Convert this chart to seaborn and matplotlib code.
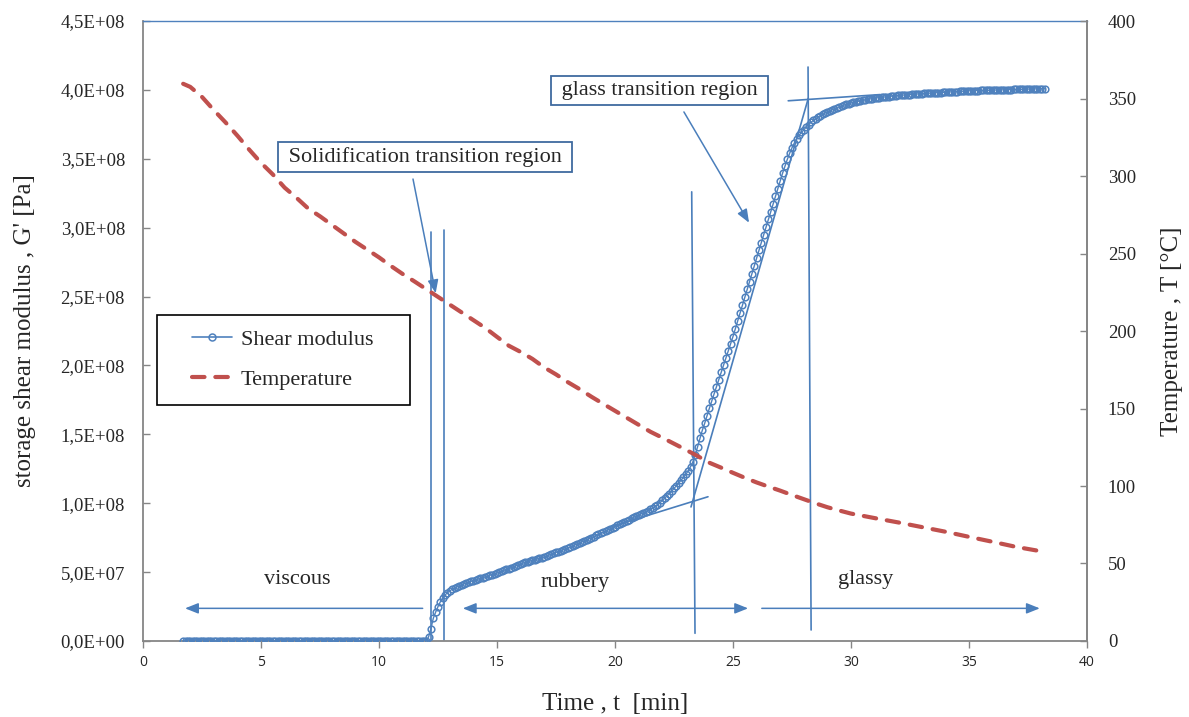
import numpy as np
import matplotlib
matplotlib.use("Agg")
import matplotlib.pyplot as plt
import seaborn as sns
from matplotlib.ticker import FuncFormatter, MultipleLocator
from matplotlib.lines import Line2D
from matplotlib.patches import Rectangle

# ---- measured data -------------------------------------------------------
# storage shear modulus, sampled every 0.1 min starting at 1.7 min (units of 1e7 Pa)
t_start = 1.7
t_step = 0.1
modulus_1e7 = [
    0.0, 0.0, 0.0, 0.0, 0.0, 0.0, 0.0, 0.0, 0.0, 0.0,
    0.0, 0.0, 0.0, 0.0, 0.0, 0.0, 0.0, 0.0, 0.0, 0.0,
    0.0, 0.0, 0.0, 0.0, 0.0, 0.0, 0.0, 0.0, 0.0, 0.0,
    0.0, 0.0, 0.0, 0.0, 0.0, 0.0, 0.0, 0.0, 0.0, 0.0,
    0.0, 0.0, 0.0, 0.0, 0.0, 0.0, 0.0, 0.0, 0.0, 0.0,
    0.0, 0.0, 0.0, 0.0, 0.0, 0.0, 0.0, 0.0, 0.0, 0.0,
    0.0, 0.0, 0.0, 0.0, 0.0, 0.0, 0.0, 0.0, 0.0, 0.0,
    0.0, 0.0, 0.0, 0.0, 0.0, 0.0, 0.0, 0.0, 0.0, 0.0,
    0.0, 0.0, 0.0, 0.0, 0.0, 0.0, 0.0, 0.0, 0.0, 0.0,
    0.0, 0.0, 0.0, 0.0, 0.0, 0.0, 0.0, 0.0, 0.0, 0.0,
    0.0, 0.0, 0.0, 0.0,
    0.3, 0.9, 1.65, 2.1, 2.5, 2.85, 3.1, 3.35, 3.5, 3.65,
    3.75, 3.85, 3.93, 4.0, 4.08, 4.15, 4.21, 4.27, 4.33, 4.38,
    4.44, 4.49, 4.55, 4.60, 4.66, 4.71, 4.77, 4.82, 4.88, 4.93,
    5.00, 5.06, 5.13, 5.20, 5.26, 5.33, 5.40, 5.46, 5.53, 5.60,
    5.65, 5.70, 5.75, 5.80, 5.85, 5.90, 5.95, 6.00, 6.05, 6.10,
    6.17, 6.23, 6.30, 6.36, 6.43, 6.49, 6.56, 6.62, 6.69, 6.75,
    6.83, 6.90, 6.98, 7.05, 7.13, 7.20, 7.28, 7.35, 7.43, 7.50,
    7.58, 7.66, 7.74, 7.82, 7.90, 7.98, 8.06, 8.14, 8.22, 8.30,
    8.39, 8.47, 8.56, 8.64, 8.73, 8.81, 8.90, 8.98, 9.07, 9.15,
    9.23, 9.31, 9.39, 9.47, 9.56, 9.66, 9.77, 9.89, 10.03, 10.20,
    10.36, 10.53, 10.70, 10.88, 11.07, 11.27, 11.47, 11.67, 11.88, 12.10,
    12.35, 12.65, 13.00, 13.50, 14.10, 14.70, 15.30, 15.80, 16.35, 16.90,
    17.42, 17.94, 18.46, 18.98, 19.50, 20.02, 20.54, 21.06, 21.58, 22.10,
    22.67, 23.24, 23.81, 24.38, 24.95, 25.52, 26.09, 26.66, 27.23, 27.80,
    28.36, 28.92, 29.48, 30.04, 30.60, 31.16, 31.72, 32.28, 32.84, 33.40,
    33.95, 34.45, 34.95, 35.40, 35.80, 36.15, 36.45, 36.70, 36.92, 37.10,
    37.30, 37.48, 37.64, 37.78, 37.90, 38.02, 38.13, 38.23, 38.32, 38.40,
    38.48, 38.56, 38.63, 38.70, 38.77, 38.83, 38.89, 38.95, 39.00, 39.05,
    39.09, 39.13, 39.17, 39.21, 39.25, 39.28, 39.31, 39.34, 39.37, 39.40,
    39.42, 39.44, 39.46, 39.48, 39.50, 39.52, 39.54, 39.56, 39.58, 39.60,
    39.61, 39.62, 39.64, 39.65, 39.66, 39.68, 39.69, 39.70, 39.72, 39.73,
    39.74, 39.75, 39.76, 39.77, 39.78, 39.79, 39.80, 39.81, 39.82, 39.83,
    39.84, 39.85, 39.86, 39.87, 39.88, 39.89, 39.90, 39.91, 39.92, 39.93,
    39.94, 39.94, 39.95, 39.95, 39.96, 39.96, 39.97, 39.97, 39.98, 39.98,
    39.99, 39.99, 40.00, 40.00, 40.01, 40.01, 40.02, 40.02, 40.03, 40.03,
    40.04, 40.04, 40.05, 40.05, 40.06, 40.06, 40.07, 40.07, 40.08, 40.08,
    40.09, 40.09,
]

# sample temperature during cooling
temp_time = [1.7, 2.0, 2.5, 3.0, 3.5, 4.0, 4.5, 5.0, 5.5, 6.0, 6.5, 7.0, 7.5,
             8.0, 8.5, 9.0, 9.5, 10.0, 10.5, 11.0, 11.5, 12.0, 12.5, 13.0,
             13.5, 14.0, 14.5, 15.0, 15.5, 16.0, 16.5, 17.0, 17.5, 18.0, 18.5,
             19.0, 19.5, 20.0, 20.5, 21.0, 21.5, 22.0, 22.5, 23.0, 23.5, 24.0,
             24.5, 25.0, 25.5, 26.0, 26.5, 27.0, 27.5, 28.0, 28.5, 29.0, 29.5,
             30.0, 31.0, 32.0, 33.0, 34.0, 35.0, 36.0, 37.0, 38.2]
temp_c = [359.5, 357.5, 351.0, 342.5, 334.5, 326.0, 317.0, 308.5, 301.0, 292.5,
          286.0, 279.0, 274.0, 268.5, 263.0, 257.5, 252.5, 247.5, 242.0, 236.8,
          232.0, 227.0, 222.0, 217.0, 212.0, 207.0, 202.0, 196.2, 190.5, 186.5,
          182.0, 176.5, 172.0, 167.0, 162.5, 157.6, 153.0, 148.5, 144.0, 139.5,
          135.0, 131.2, 127.3, 123.4, 119.3, 115.0, 111.8, 108.5, 105.3, 102.3,
          99.6, 97.0, 94.2, 91.5, 88.8, 86.3, 84.2, 82.2, 79.3, 76.5, 73.5,
          70.5, 67.2, 64.0, 60.7, 57.5]

series_labels = ["Shear modulus", "Temperature"]
x_ticks = [0, 5, 10, 15, 20, 25, 30, 35, 40]

time_min = np.round(t_start + t_step * np.arange(len(modulus_1e7)), 2)
modulus_pa = np.array(modulus_1e7) * 1e7

# ---- styling --------------------------------------------------------------
sns.set_theme(style="white")
plt.rcParams["font.family"] = ["Liberation Serif", "DejaVu Serif"]

BLUE = "#4F81BD"
LINEBLUE = "#4A7EBB"
BOXBLUE = "#3F6A9F"
RED = "#C0504D"
GRAY = "#868686"
DASH = (0, (3.0, 2.6))

fig = plt.figure(figsize=(11.89, 7.17), dpi=100)
fig.patch.set_facecolor("white")
ax = fig.add_axes([0.1203, 0.106, 0.7939, 0.8647])
ax.set_facecolor("white")

sns.lineplot(x=time_min, y=modulus_pa, ax=ax, color=BLUE, marker="o",
             markersize=4.8, markerfacecolor="none", markeredgecolor=BLUE,
             markeredgewidth=1.1, linewidth=1.0, legend=False, zorder=3)

ax2 = ax.twinx()
sns.lineplot(x=temp_time, y=temp_c, ax=ax2, color=RED, linewidth=3.0,
             linestyle=DASH, dash_capstyle="round", legend=False, zorder=3)

# ---- axes -------------------------------------------------------------------
ax.set_xlim(0, 40)
ax.set_ylim(0, 4.5e8)
ax2.set_ylim(0, 400)

ax.yaxis.set_major_locator(MultipleLocator(0.5e8))
ax.yaxis.set_major_formatter(FuncFormatter(lambda v, p: f"{v:.1E}".replace(".", ",")))
ax.set_xticks(x_ticks)
ax.set_xticklabels([str(v) for v in x_ticks], fontfamily="Open Sans", fontsize=10)
ax2.yaxis.set_major_locator(MultipleLocator(50))
ax2.yaxis.set_major_formatter(FuncFormatter(lambda v, p: f"{v:.0f}"))

ax.tick_params(axis="y", direction="in", length=5, width=1, color=GRAY,
               pad=13, labelsize=13.5, left=True)
ax.tick_params(axis="x", direction="out", length=5, width=1, color=GRAY,
               pad=5, bottom=True)
ax2.tick_params(axis="y", direction="in", length=5, width=1, color=GRAY,
                pad=15, labelsize=13.5, right=True)

for side in ("left", "bottom", "right"):
    ax.spines[side].set_color(GRAY)
    ax.spines[side].set_linewidth(1.3)
ax.spines["top"].set_color(BLUE)
ax.spines["top"].set_linewidth(1.0)
for side in ("left", "bottom", "top"):
    ax2.spines[side].set_visible(False)
ax2.spines["right"].set_color(GRAY)
ax2.spines["right"].set_linewidth(1.3)
ax.grid(False)
ax2.grid(False)

ax.set_xlabel("Time , t  [min]", fontsize=18, labelpad=17)
ax.set_ylabel("storage shear modulus , G' [Pa]", fontsize=18, labelpad=18)
ax2.set_ylabel("Temperature , T [°C]", fontsize=18, labelpad=18)

# ---- transition construction lines ----------------------------------------
guide = dict(color=LINEBLUE, linewidth=1.2, zorder=2)
ax.plot([12.19, 12.19], [0.01e8, 2.97e8], **guide)
ax.plot([12.74, 12.74], [0.01e8, 2.98e8], **guide)
ax.plot([23.39, 23.25], [0.056e8, 3.26e8], **guide)
ax.plot([28.31, 28.18], [0.08e8, 4.166e8], **guide)
ax.plot([19.79, 23.94], [0.827e8, 1.047e8], **guide)
ax.plot([23.22, 28.19], [0.973e8, 3.939e8], **guide)
ax.plot([27.34, 31.23], [3.921e8, 3.966e8], **guide)

arrow = dict(arrowstyle="-|>,head_length=0.8,head_width=0.32", color=LINEBLUE,
             lw=1.1, shrinkA=0, shrinkB=0, mutation_scale=10)
arrow2 = dict(arrowstyle="<|-|>,head_length=0.8,head_width=0.32", color=LINEBLUE,
              lw=1.1, shrinkA=0, shrinkB=0, mutation_scale=10)

# phase arrows
ax.annotate("", xy=(1.78, 0.237e8), xytext=(11.85, 0.237e8), arrowprops=arrow)
ax.annotate("", xy=(25.64, 0.237e8), xytext=(13.55, 0.237e8), arrowprops=arrow2)
ax.annotate("", xy=(38.0, 0.237e8), xytext=(26.22, 0.237e8), arrowprops=arrow)

ax.text(6.53, 0.443e8, "viscous", fontsize=16, ha="center", va="center")
ax.text(18.3, 0.421e8, "rubbery", fontsize=16, ha="center", va="center")
ax.text(30.6, 0.443e8, "glassy", fontsize=16, ha="center", va="center")

# region callouts
box = dict(boxstyle="square,pad=0.22", fc="white", ec=BOXBLUE, lw=1.3)
ax.text(11.95, 3.513e8, " Solidification transition region ", fontsize=16,
        ha="center", va="center", bbox=box, zorder=5)
ax.text(21.89, 3.995e8, " glass transition region ", fontsize=16,
        ha="center", va="center", bbox=box, zorder=5)
ax.annotate("", xy=(12.40, 2.524e8), xytext=(11.44, 3.353e8), arrowprops=arrow)
ax.annotate("", xy=(25.68, 3.036e8), xytext=(22.92, 3.84e8), arrowprops=arrow)

# ---- legend -----------------------------------------------------------------
ax2.add_patch(Rectangle((0.0148, 0.381), 0.268, 0.145, transform=ax2.transAxes,
                        facecolor="white", edgecolor="black", linewidth=1.2,
                        zorder=6))
handles = [
    Line2D([], [], color=BLUE, marker="o", markerfacecolor="none",
           markeredgecolor=BLUE, markersize=5, markeredgewidth=1.1, linewidth=1.2),
    Line2D([], [], color=RED, linewidth=3.0, linestyle=DASH, dash_capstyle="round"),
]
leg = ax2.legend(handles, series_labels, loc="upper left",
                 bbox_to_anchor=(0.0519, 0.503), frameon=False, fontsize=16,
                 borderpad=0, borderaxespad=0, labelspacing=0.9,
                 handlelength=1.8, handletextpad=0.4, numpoints=1)
leg.set_zorder(7)

fig.savefig("out.png", dpi=100, facecolor="white")
